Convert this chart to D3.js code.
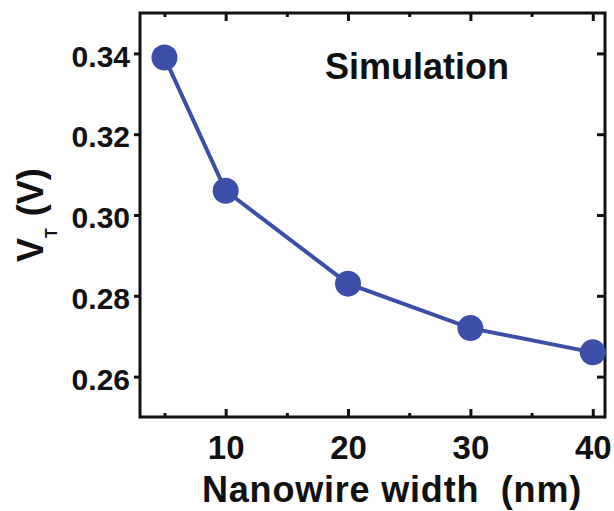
<!DOCTYPE html>
<html>
<head>
<meta charset="utf-8">
<script src="https://d3js.org/d3.v7.min.js"></script>
<style>
  body { margin: 0; background: #fff; }
  text { font-family: Arial, "Liberation Sans", sans-serif; font-weight: bold; fill: #111; }
</style>
</head>
<body>
<div id="viz"></div>
<script>
var width = 614;
var height = 511;

// data
var widths = [5, 10, 20, 30, 40];           // nanowire width (nm)
var vt = [0.339, 0.306, 0.283, 0.272, 0.266]; // threshold voltage (V)
var xMajor = [10, 20, 30, 40];
var xMinor = [5, 15, 25, 35];
var yTicks = [0.26, 0.28, 0.30, 0.32, 0.34];

var blue = "#3b4fa9";

var svg = d3.select("#viz").append("svg")
    .attr("width", width)
    .attr("height", height);

var x = d3.scaleLinear().domain([3, 41]).range([140, 605]);
var y = d3.scaleLinear().domain([0.25, 0.35]).range([417, 13]);

// bottom axis, ticks point inward
svg.append("g")
    .attr("transform", "translate(0,417)")
    .call(d3.axisBottom(x).tickValues(xMajor).tickSize(-8).tickPadding(19).tickFormat(d3.format("d")))
    .call(styleAxis)
    .selectAll("text").style("font-size", "33px");

svg.append("g")
    .attr("transform", "translate(0,417)")
    .call(d3.axisBottom(x).tickValues(xMinor).tickSize(-4).tickFormat(""))
    .call(styleAxis);

// top axis, no labels
svg.append("g")
    .attr("transform", "translate(0,13)")
    .call(d3.axisTop(x).tickValues(xMajor).tickSize(-8).tickFormat(""))
    .call(styleAxis);

svg.append("g")
    .attr("transform", "translate(0,13)")
    .call(d3.axisTop(x).tickValues(xMinor).tickSize(-4).tickFormat(""))
    .call(styleAxis);

// left axis, ticks outward
svg.append("g")
    .attr("transform", "translate(140,0)")
    .call(d3.axisLeft(y).tickValues(yTicks).tickSize(6).tickPadding(4).tickFormat(d3.format(".2f")))
    .call(styleAxis)
    .selectAll("text")
      .style("font-size", "30px")
      .attr("dy", "0.42em");

// right axis, ticks inward
svg.append("g")
    .attr("transform", "translate(605,0)")
    .call(d3.axisRight(y).tickValues(yTicks).tickSize(-8).tickFormat(""))
    .call(styleAxis);

// frame
svg.append("rect")
    .attr("x", 140)
    .attr("y", 13)
    .attr("width", 465)
    .attr("height", 404)
    .style("fill", "none")
    .style("stroke", "#111")
    .style("stroke-width", 3);

var line = d3.line()
    .x(function(d, i) { return x(widths[i]); })
    .y(function(d) { return y(d); });

svg.append("path")
    .datum(vt)
    .attr("d", line)
    .style("fill", "none")
    .style("stroke", blue)
    .style("stroke-width", 4);

svg.selectAll(".dot")
    .data(vt)
  .enter().append("circle")
    .attr("class", "dot")
    .attr("cx", function(d, i) { return x(widths[i]); })
    .attr("cy", function(d) { return y(d); })
    .attr("r", 13)
    .style("fill", blue);

svg.append("text")
    .attr("x", 325)
    .attr("y", 79)
    .style("font-size", "36px")
    .text("Simulation");

svg.append("text")
    .attr("x", 392)
    .attr("y", 502)
    .attr("text-anchor", "middle")
    .attr("xml:space", "preserve")
    .style("font-size", "36px")
    .style("letter-spacing", "0.8px")
    .text("Nanowire width  (nm)");

var ylab = svg.append("text")
    .attr("transform", "translate(43,262) rotate(-90)")
    .style("font-size", "36px");
ylab.append("tspan").text("V");
ylab.append("tspan").attr("dy", 14).style("font-size", "16px").text("T");
ylab.append("tspan").attr("dy", -14).attr("dx", 12).text("(V)");

function styleAxis(g) {
  g.select(".domain").remove();
  g.selectAll(".tick line").style("stroke", "#111").style("stroke-width", 3);
}
</script>
</body>
</html>
